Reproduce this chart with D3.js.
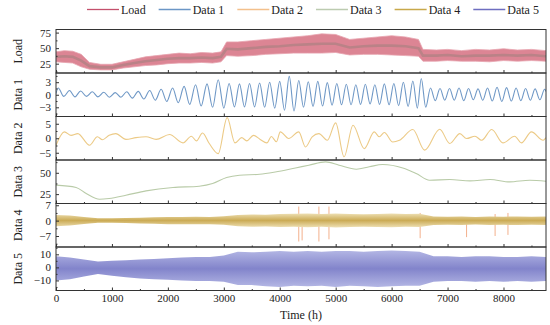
<!DOCTYPE html>
<html>
<head>
<meta charset="utf-8">
<script src="https://cdn.jsdelivr.net/npm/d3@7.9.0/dist/d3.min.js"></script>
<style>
  body { margin: 0; background: #fff; }
  svg text { font-family: "Liberation Serif", "Times New Roman", serif; fill: #222; }
</style>
</head>
<body>
<div id="chart"></div>
<script>
// ---- data ----
const seriesNames = ["Load", "Data 1", "Data 2", "Data 3", "Data 4", "Data 5"];
const xTicks = [0, 1000, 2000, 3000, 4000, 5000, 6000, 7000, 8000];
const xMinorTicks = [500, 1500, 2500, 3500, 4500, 5500, 6500, 7500, 8500];

// Load: hourly band (upper / lower envelope + dense core)
const loadHours = [0,150,300,450,600,800,1000,1200,1400,1600,1800,2000,2200,2400,2600,2800,2950,3050,3250,3500,3750,4000,4250,4500,4750,5000,5250,5500,5750,6000,6250,6480,6560,6800,7000,7250,7500,7750,8000,8250,8500,8760];
const loadHigh = [44,46,45,40,27,24,24,28,32,36,38,40,42,41,43,42,44,60,60,62,64,66,68,70,73,72,64,66,68,70,68,64,48,47,48,46,48,47,49,47,48,46];
const loadLow  = [28,27,26,20,16,15,15,18,20,22,23,25,26,26,27,26,28,38,37,38,40,41,42,42,42,43,39,40,40,39,38,37,29,29,30,29,29,28,30,29,30,29];
const loadMid  = [36,37,36,30,21,19,19,23,26,29,31,33,34,34,35,34,36,49,48,50,52,53,55,56,57,57,51,53,54,54,53,50,38,38,39,37,38,38,39,38,39,37];

// Data 1: peaks and troughs of the oscillation
const d1Hours = [0,40,140,240,340,440,545,650,750,855,955,1060,1160,1265,1365,1470,1570,1675,1775,1880,1980,2085,2185,2290,2390,2495,2595,2700,2800,2900,3000,3095,3190,3280,3370,3460,3550,3640,3730,3820,3910,4000,4085,4170,4255,4340,4425,4510,4595,4680,4765,4850,4935,5020,5105,5190,5275,5360,5445,5530,5615,5700,5785,5870,5955,6040,6125,6210,6295,6380,6460,6530,6610,6695,6780,6865,6950,7035,7120,7205,7290,7375,7460,7545,7630,7715,7800,7885,7970,8055,8140,8225,8310,8395,8480,8565,8650,8735,8760];
const d1Vals  = [0.3,1.6,-0.4,1.0,-0.5,0.9,-0.4,0.7,-0.5,0.6,-0.6,0.5,-0.6,0.7,-0.8,0.8,-1.0,1.0,-1.3,1.3,-1.6,1.6,-1.9,2.0,-2.3,2.4,-2.7,2.6,-3.0,3.6,-3.2,2.7,-2.9,2.6,-2.9,2.7,-2.9,2.8,-3.0,3.0,-3.2,3.2,-3.7,4.4,-3.9,3.4,-3.0,3.1,-2.8,3.2,-2.7,2.9,-2.5,2.7,-2.4,2.5,-2.4,2.4,-2.3,2.5,-2.2,2.4,-2.3,2.6,-2.4,2.7,-2.6,3.0,-2.8,3.3,-3.2,3.9,-3.0,1.6,-1.4,1.5,-1.3,1.5,-1.3,1.6,-1.4,1.5,-1.2,1.4,-1.3,1.6,-1.5,1.8,-1.6,1.7,-1.5,1.6,-1.4,1.5,-1.3,1.4,-1.2,1.3,0.8];

// Data 2
const d2Hours = [0,150,270,390,600,740,830,950,1070,1250,1430,1610,1790,2030,2270,2420,2510,2620,2740,2900,3060,3200,3320,3410,3530,3650,3770,3850,3940,4010,4160,4340,4460,4580,4700,4850,5000,5150,5310,5510,5690,5780,5870,6020,6140,6380,6590,6860,7040,7220,7340,7490,7610,7790,7990,8200,8320,8500,8710,8760];
const d2Vals  = [-2.4,2.2,1.0,1.6,-2.4,0.5,-0.5,1.0,1.6,-0.4,0.2,0.5,-0.4,1.3,-1.6,0.7,-0.9,1.8,-1.8,-5.3,7.1,-1.6,0.2,-0.9,1.0,-0.4,-1.6,0.6,-1.2,2.2,-0.1,2.2,-3.0,0.5,1.6,-0.7,5.3,-6.4,4.5,-3.6,2.2,0.5,2.0,-1.3,-0.7,3.0,-4.1,3.1,-1.8,1.6,-0.1,0.7,-0.7,3.0,-1.6,0.7,-1.6,2.2,-0.7,0.2];

// Data 3
const d3Hours = [0,360,540,780,950,1250,1610,2090,2560,2800,3050,3280,3640,3920,4280,4520,4820,5060,5370,5600,5840,6200,6440,6680,7040,7400,7760,8110,8470,8760];
const d3Vals  = [35.5,32.8,25.7,19,19.9,23.7,28.8,32.8,34.3,37.4,44.5,47.2,48.3,51,55.7,58.9,62.8,58.9,54.2,57,59.8,55.7,49.2,41.3,42.1,40.5,42.1,39.3,41.3,40.1];

// Data 4 / Data 5: noisy bands, envelopes every 250 h
const envHours = [0,250,500,750,1000,1250,1500,1750,2000,2250,2500,2750,3000,3250,3500,3750,4000,4250,4500,4750,5000,5250,5500,5750,6000,6250,6500,6750,7000,7250,7500,7750,8000,8250,8500,8750,8760];
const d4High = [2.6,2.3,1.6,1.1,1.1,1.2,1.3,1.5,1.7,1.7,1.8,1.7,2.0,2.6,2.8,2.7,3.0,3.1,3.2,3.0,3.3,3.0,2.9,3.0,3.2,3.0,3.1,1.9,1.8,1.9,1.7,1.9,1.8,1.9,1.8,1.9,1.8];
const d4Low  = [-2.5,-2.2,-1.5,-1.0,-1.0,-1.1,-1.3,-1.4,-1.6,-1.6,-1.7,-1.6,-1.9,-2.6,-2.8,-2.7,-2.9,-2.8,-3.0,-2.8,-3.1,-2.9,-2.8,-2.9,-3.0,-2.8,-2.9,-2.0,-1.9,-2.0,-1.8,-2.0,-1.9,-2.0,-1.9,-2.0,-1.9];
const d4SpikeHours  = [4340, 4400, 4700, 4880, 6510, 7340, 7850, 8080];
const d4SpikeTop    = [6.4, 2.5, 6.4, 6.4, 3.5, 1.5, 3.0, 3.5];
const d4SpikeBottom = [-9.5, -9.0, -9.5, -8.5, -8.0, -7.5, -7.0, -6.5];

const d5High = [8.5,7.5,6.0,4.5,5.0,5.5,6.0,6.5,7.0,7.5,8.0,8.0,9.0,12.0,11.5,12.0,12.5,12.0,12.5,12.0,12.5,12.5,12.0,12.5,13.0,12.5,12.0,8.5,8.5,8.0,8.5,8.5,8.0,8.0,8.5,8.0,8.0];
const d5Low  = [-10,-9,-7,-5,-6.5,-7.5,-8.5,-9,-9.5,-10,-10.5,-10.5,-11,-13.5,-13.5,-14.5,-15,-14,-14.5,-14,-15,-14,-14.5,-15,-14.5,-14,-14,-11,-10.5,-10.5,-11,-10.5,-11,-10.5,-11,-10.5,-10.5];

// y ticks per panel
const yTickVals = [[25, 50, 75], [-3, 0, 3], [-5, 0, 5], [25, 50], [-7, 0, 7], [-10, 0, 10]];
const yMinorVals = [[12.5, 37.5, 62.5], [-4.5, -1.5, 1.5, 4.5], [-2.5, 2.5], [37.5, 62.5], [-10.5, -3.5, 3.5], [-15, -5, 5, 15]];

// ---- layout ----
const W = 550, H = 325;
const left = 56, right = 546, top0 = 29.5, panelH = 43.5;
const yDomains = [[10, 80], [-5.2, 5.2], [-7.5, 7.5], [14, 65], [-12, 7.8], [-17.7, 15.6]];
const colors = ["#c4506c", "#6b96c6", "#f3c08c", "#bccbb0", "#c8a84a", "#6e6ec0"];

const svg = d3.select("#chart").append("svg")
  .attr("width", W).attr("height", H);
const defs = svg.append("defs");

const x = d3.scaleLinear().domain([0, 8760]).range([left, right]);

function bandGradient(id, edge, core) {
  const g = defs.append("linearGradient").attr("id", id)
    .attr("x1", 0).attr("y1", 0).attr("x2", 0).attr("y2", 1);
  g.append("stop").attr("offset", "0%").attr("stop-color", edge);
  g.append("stop").attr("offset", "50%").attr("stop-color", core);
  g.append("stop").attr("offset", "100%").attr("stop-color", edge);
}
bandGradient("g4", "#eee0b4", "#cbab55");
bandGradient("g5", "#b3b6e4", "#8284cb");

const zip = (xs, ys) => xs.map((h, i) => ({ h, v: ys[i] }));

seriesNames.forEach((name, i) => {
  const y0 = top0 + i * panelH;
  const y = d3.scaleLinear().domain(yDomains[i]).range([y0 + panelH, y0]);

  defs.append("clipPath").attr("id", "clip" + i)
    .append("rect").attr("x", left).attr("y", y0).attr("width", right - left).attr("height", panelH);

  const g = svg.append("g").attr("clip-path", `url(#clip${i})`);

  if (i === 0) {
    const rows = loadHours.map((h, k) => ({ h, hi: loadHigh[k], lo: loadLow[k], mid: loadMid[k] }));
    g.append("path").datum(rows)
      .attr("fill", "#dc8594").attr("stroke", "#e7a3af").attr("stroke-width", 0.8)
      .attr("d", d3.area().x(d => x(d.h)).y0(d => y(d.lo)).y1(d => y(d.hi)));
    g.append("path").datum(rows)
      .attr("fill", "none").attr("stroke", "#a4807f").attr("stroke-width", 2.6).attr("opacity", 0.6)
      .attr("d", d3.line().x(d => x(d.h)).y(d => y(d.mid)));
  }
  if (i === 1 || i === 2 || i === 3) {
    const hrs = [d1Hours, d2Hours, d3Hours][i - 1];
    const vals = [d1Vals, d2Vals, d3Vals][i - 1];
    const lineColor = ["#6f98c6", "#ecca86", "#b9cba8"][i - 1];
    g.append("path").datum(zip(hrs, vals))
      .attr("fill", "none").attr("stroke", lineColor).attr("stroke-width", 1.1)
      .attr("d", d3.line().curve(d3.curveMonotoneX).x(d => x(d.h)).y(d => y(d.v)));
  }
  if (i === 4) {
    g.selectAll("line.spike").data(d4SpikeHours).join("line")
      .attr("class", "spike")
      .attr("x1", d => x(d)).attr("x2", d => x(d))
      .attr("y1", (d, k) => y(d4SpikeTop[k])).attr("y2", (d, k) => y(d4SpikeBottom[k]))
      .attr("stroke", "#f3b08c").attr("stroke-width", 1);
    const rows = envHours.map((h, k) => ({ h, hi: d4High[k], lo: d4Low[k] }));
    g.append("path").datum(rows)
      .attr("fill", "url(#g4)")
      .attr("d", d3.area().x(d => x(d.h)).y0(d => y(d.lo)).y1(d => y(d.hi)));
  }
  if (i === 5) {
    const rows = envHours.map((h, k) => ({ h, hi: d5High[k], lo: d5Low[k] }));
    g.append("path").datum(rows)
      .attr("fill", "url(#g5)")
      .attr("d", d3.area().x(d => x(d.h)).y0(d => y(d.lo)).y1(d => y(d.hi)));
  }

  // frame
  svg.append("rect")
    .attr("x", left).attr("y", y0).attr("width", right - left).attr("height", panelH)
    .attr("fill", "none").attr("stroke", "#333").attr("stroke-width", 1);

  // y axis (inward ticks)
  const ya = svg.append("g").attr("transform", `translate(${left},0)`)
    .call(d3.axisLeft(y).tickValues(yTickVals[i]).tickSize(-3).tickSizeOuter(0).tickPadding(5)
      .tickFormat(d => d < 0 ? "\u2212" + Math.abs(d) : d));
  ya.select(".domain").remove();
  ya.selectAll(".tick line").attr("stroke", "#333");
  ya.selectAll(".tick text").attr("font-size", 11).attr("font-family", null);
  const ym = svg.append("g").attr("transform", `translate(${left},0)`)
    .call(d3.axisLeft(y).tickValues(yMinorVals[i].filter(v => v > yDomains[i][0] && v < yDomains[i][1]))
      .tickSize(-1.5).tickSizeOuter(0).tickFormat(""));
  ym.select(".domain").remove();
  ym.selectAll(".tick line").attr("stroke", "#333");

  // x ticks at panel bottom (inward)
  const last = i === seriesNames.length - 1;
  const xa = svg.append("g").attr("transform", `translate(0,${y0 + panelH})`)
    .call(d3.axisBottom(x).tickValues(xTicks).tickSize(-3).tickSizeOuter(0).tickPadding(4)
      .tickFormat(last ? d3.format("d") : ""));
  xa.select(".domain").remove();
  xa.selectAll(".tick line").attr("stroke", "#333");
  xa.selectAll(".tick text").attr("font-size", 11).attr("font-family", null);
  const xm = svg.append("g").attr("transform", `translate(0,${y0 + panelH})`)
    .call(d3.axisBottom(x).tickValues(xMinorTicks).tickSize(-1.5).tickSizeOuter(0).tickFormat(""));
  xm.select(".domain").remove();
  xm.selectAll(".tick line").attr("stroke", "#333");

  // panel title
  svg.append("text")
    .attr("transform", `translate(22,${y0 + panelH / 2}) rotate(-90)`)
    .attr("text-anchor", "middle").attr("font-size", 12)
    .text(name);
});

// x axis title
svg.append("text")
  .attr("x", (left + right) / 2).attr("y", 319)
  .attr("text-anchor", "middle").attr("font-size", 12)
  .text("Time (h)");

// legend
let lx = 87;
seriesNames.forEach((name, i) => {
  svg.append("line")
    .attr("x1", lx).attr("x2", lx + 32).attr("y1", 9.5).attr("y2", 9.5)
    .attr("stroke", colors[i]).attr("stroke-width", 1.3);
  const t = svg.append("text")
    .attr("x", lx + 34).attr("y", 13.5).attr("font-size", 12)
    .text(name);
  lx += 34 + t.node().getComputedTextLength() + 13;
});
</script>
</body>
</html>
